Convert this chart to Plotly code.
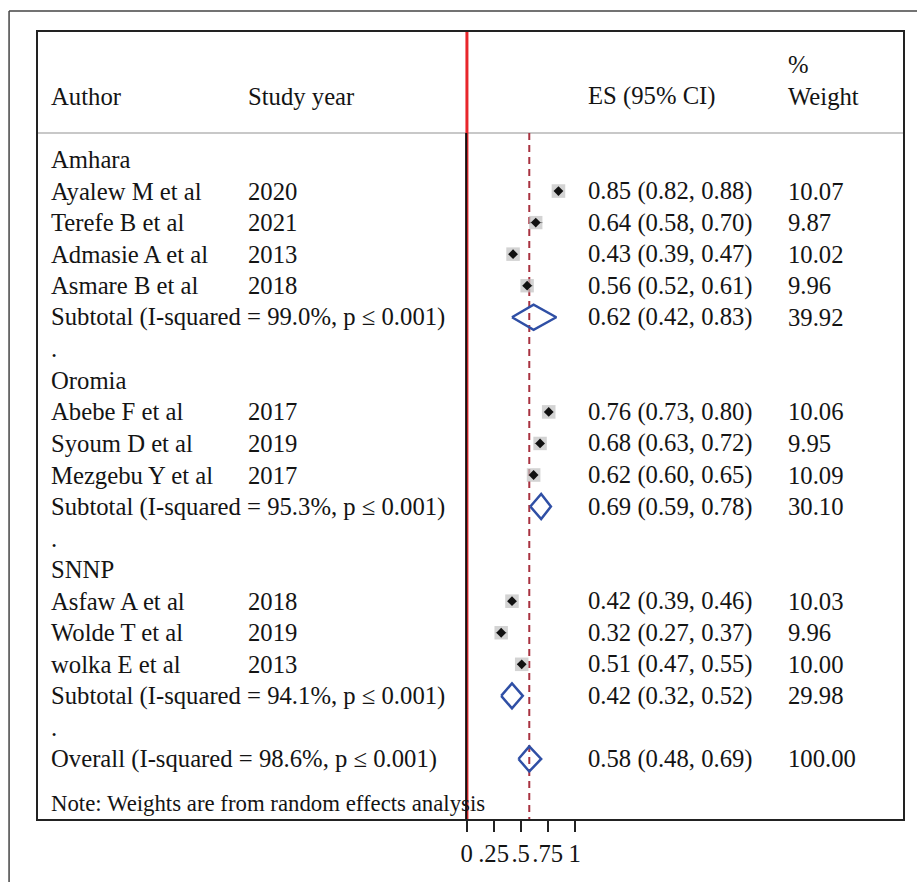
import plotly.graph_objects as go

# ---- data -------------------------------------------------------------
regions = ["Amhara", "Oromia", "SNNP"]

authors = [
    ["Ayalew M et al", "Terefe B et al", "Admasie A et al", "Asmare B et al"],
    ["Abebe F et al", "Syoum D et al", "Mezgebu Y et al"],
    ["Asfaw A et al", "Wolde T et al", "wolka E et al"],
]
years = [
    [2020, 2021, 2013, 2018],
    [2017, 2019, 2017],
    [2018, 2019, 2013],
]
es = [
    [0.85, 0.64, 0.43, 0.56],
    [0.76, 0.68, 0.62],
    [0.42, 0.32, 0.51],
]
ci_low = [
    [0.82, 0.58, 0.39, 0.52],
    [0.73, 0.63, 0.60],
    [0.39, 0.27, 0.47],
]
ci_high = [
    [0.88, 0.70, 0.47, 0.61],
    [0.80, 0.72, 0.65],
    [0.46, 0.37, 0.55],
]
weights = [
    [10.07, 9.87, 10.02, 9.96],
    [10.06, 9.95, 10.09],
    [10.03, 9.96, 10.00],
]

sub_es = [0.62, 0.69, 0.42]
sub_low = [0.42, 0.59, 0.32]
sub_high = [0.83, 0.78, 0.52]
sub_weight = [39.92, 30.10, 29.98]
sub_i2 = [99.0, 95.3, 94.1]

overall_es, overall_low, overall_high = 0.58, 0.48, 0.69
overall_weight = 100.00
overall_i2 = 98.6

tick_vals = [0, 0.25, 0.5, 0.75, 1]
tick_text = ["0", ".25", ".5", ".75", "1"]

# ---- layout constants -------------------------------------------------
W, H = 917, 882
BOX_L, BOX_R, BOX_T, BOX_B = 38, 905, 32, 819
FONT = "Liberation Serif"
FS = 24.7
FS_NOTE = 22.8
TXT = "#141414"
BLUE = "#2f4fa5"
DASH_RED = "#a83240"


def px(xpix):
    """Horizontal pixel position -> paper coordinate of the plot box."""
    return (xpix - BOX_L) / (BOX_R - BOX_L)


def py(ypix):
    """Vertical pixel position -> paper coordinate of the plot box."""
    return (BOX_B - ypix) / (BOX_B - BOX_T)


COL_AUTHOR, COL_YEAR, COL_ES, COL_W = px(49), px(246), px(587), px(787.5)

# x: 0 at pixel ~467.5, one unit ~108 px
X0, XU = 467.6, 108.3
x_range = [(BOX_L - X0) / XU, (BOX_R - X0) / XU]
# rows: row 0 at pixel ~159, step 31.55 px
R0, RS = 159.5, 31.55
y_range = [(BOX_B - R0) / RS, (BOX_T - R0) / RS]
sep_row = (133 - R0) / RS

fig = go.Figure()
annotations = []


def add_text(text, xpaper, row, size=FS):
    annotations.append(dict(
        text=text, x=xpaper, y=row, xref="paper", yref="y",
        xanchor="left", yanchor="middle", showarrow=False,
        font=dict(family=FONT, size=size, color=TXT),
    ))


def fmt_ci(e, lo, hi):
    return f"{e:.2f} ({lo:.2f}, {hi:.2f})"


# header
add_text("Author", COL_AUTHOR, -2)
add_text("Study year", COL_YEAR, -2)
add_text("ES (95% CI)", COL_ES, -2)
add_text("%", COL_W, -3)
add_text("Weight", COL_W, -2)

row = 0
diamonds = []
for g, region in enumerate(regions):
    add_text(region, COL_AUTHOR, row)
    row += 1
    s_rows = []
    for i in range(len(authors[g])):
        add_text(authors[g][i], COL_AUTHOR, row)
        add_text(str(years[g][i]), COL_YEAR, row)
        add_text(fmt_ci(es[g][i], ci_low[g][i], ci_high[g][i]), COL_ES, row)
        add_text(f"{weights[g][i]:.2f}", COL_W, row)
        s_rows.append(row)
        # confidence interval
        fig.add_trace(go.Scatter(
            x=[ci_low[g][i], ci_high[g][i]], y=[row, row], mode="lines",
            line=dict(color="#111111", width=1), hoverinfo="skip",
            showlegend=False,
        ))
        row += 1
    # weighted study boxes and point estimates
    fig.add_trace(go.Scatter(
        x=es[g], y=s_rows, mode="markers",
        marker=dict(symbol="square", size=[w * 1.35 for w in weights[g]],
                    color="#c0c0c0", line=dict(width=0)),
        hoverinfo="skip", showlegend=False,
    ))
    fig.add_trace(go.Scatter(
        x=es[g], y=s_rows, mode="markers",
        marker=dict(symbol="diamond", size=7.5, color="#111111",
                    line=dict(width=0)),
        hoverinfo="skip", showlegend=False,
    ))
    add_text(f"Subtotal (I-squared = {sub_i2[g]:.1f}%, p \u2264 0.001)",
             COL_AUTHOR, row)
    add_text(fmt_ci(sub_es[g], sub_low[g], sub_high[g]), COL_ES, row)
    add_text(f"{sub_weight[g]:.2f}", COL_W, row)
    diamonds.append((sub_es[g], sub_low[g], sub_high[g], row))
    row += 1
    add_text(".", COL_AUTHOR, row)
    row += 1

add_text(f"Overall (I-squared = {overall_i2:.1f}%, p \u2264 0.001)",
         COL_AUTHOR, row)
add_text(fmt_ci(overall_es, overall_low, overall_high), COL_ES, row)
add_text(f"{overall_weight:.2f}", COL_W, row)
diamonds.append((overall_es, overall_low, overall_high, row))
note_row = row + 1.42
add_text("Note: Weights are from random effects analysis", COL_AUTHOR,
         note_row, size=FS_NOTE)

# pooled-estimate diamonds
half_h = 12.5 / RS
for e, lo, hi, r in diamonds:
    fig.add_trace(go.Scatter(
        x=[lo, e, hi, e, lo], y=[r, r - half_h, r, r + half_h, r],
        mode="lines", line=dict(color=BLUE, width=2.5),
        hoverinfo="skip", showlegend=False,
    ))

shapes = [
    # no-effect line
    dict(type="line", xref="x", yref="y", x0=0.003, x1=0.003,
         y0=y_range[1], y1=y_range[0], line=dict(color="#e8262b", width=3),
         layer="below"),
    dict(type="line", xref="x", yref="y", x0=-0.004, x1=-0.004,
         y0=sep_row, y1=y_range[0], line=dict(color="#111111", width=2),
         layer="below"),
    # overall effect reference line
    dict(type="line", xref="x", yref="y", x0=overall_es, x1=overall_es,
         y0=sep_row, y1=y_range[0],
         line=dict(color=DASH_RED, width=2, dash="7px,5px"), layer="below"),
    # header rule
    dict(type="line", xref="paper", yref="y", x0=0, x1=1,
         y0=sep_row, y1=sep_row, line=dict(color="#c8c8c8", width=2),
         layer="below"),
    # outer frame
    dict(type="line", xref="paper", yref="paper", x0=px(9), x1=px(W + 5),
         y0=py(11), y1=py(11), line=dict(color="#444444", width=1.5)),
    dict(type="line", xref="paper", yref="paper", x0=px(9), x1=px(9),
         y0=py(11), y1=py(H + 5), line=dict(color="#444444", width=1.5)),
]

fig.update_layout(
    width=W, height=H,
    margin=dict(l=BOX_L, r=W - BOX_R, t=BOX_T, b=H - BOX_B, pad=0),
    paper_bgcolor="white", plot_bgcolor="white",
    showlegend=False,
    annotations=annotations,
    shapes=shapes,
    font=dict(family=FONT, size=FS, color=TXT),
    xaxis=dict(
        range=x_range, showgrid=False, zeroline=False,
        showline=True, mirror=True, linecolor="#222222", linewidth=2,
        ticks="outside", ticklen=11, tickwidth=2, tickcolor="#222222",
        tickvals=tick_vals, ticktext=tick_text, tickangle=0,
        tickfont=dict(family=FONT, size=FS, color=TXT),
        fixedrange=True,
    ),
    yaxis=dict(
        range=y_range, showgrid=False, zeroline=False,
        showline=True, mirror=True, linecolor="#222222", linewidth=2,
        showticklabels=False, ticks="", fixedrange=True,
    ),
)

fig.write_html("out.html", config={"displayModeBar": False})
